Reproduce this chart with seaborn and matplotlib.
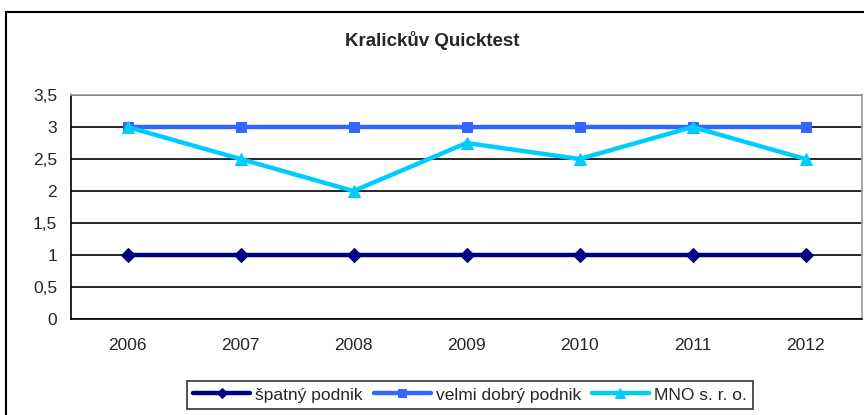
import pandas as pd
import numpy as np
import matplotlib.pyplot as plt
import seaborn as sns
from matplotlib.patches import Rectangle

# data
years = ["2006", "2007", "2008", "2009", "2010", "2011", "2012"]
spatny = [1, 1, 1, 1, 1, 1, 1]
velmi_dobry = [3, 3, 3, 3, 3, 3, 3]
mno = [3, 2.5, 2, 2.75, 2.5, 3, 2.5]

series = {
    "špatný podnik": (spatny, "#000080", "D", 7),
    "velmi dobrý podnik": (velmi_dobry, "#3366FF", "s", 7),
    "MNO s. r. o.": (mno, "#00CCFF", "^", 9),
}

sns.set_style("white")
plt.rcParams['font.family'] = ['Liberation Sans', 'DejaVu Sans']

fig = plt.figure(figsize=(8.64, 4.15), dpi=100)
ax = fig.add_axes([71/864, 1-319/415, (862-71)/864, (319-95)/415])

for name, (vals, col, mk, ms) in series.items():
    df = pd.DataFrame({"rok": years, "hodnota": vals})
    sns.lineplot(data=df, x="rok", y="hodnota", ax=ax, color=col, marker=mk,
                 markersize=ms, markeredgecolor=col, linewidth=3.2, label=name,
                 sort=False)

ax.set_xlim(-0.5, len(years) - 0.5)
ax.set_ylim(0, 3.5)
ax.set_yticks(np.arange(0, 3.51, 0.5))
ax.set_yticklabels([f"{v:g}".replace(".", ",") for v in np.arange(0, 3.51, 0.5)])
ax.yaxis.grid(True, color="black", linewidth=1.2)
ax.set_axisbelow(True)
ax.set_xlabel("")
ax.set_ylabel("")

ax.set_xticks(range(len(years)))
ax.set_xticklabels(years)
ax.set_xticks(np.arange(-0.5, len(years), 1), minor=True)
ax.tick_params(axis="x", which="major", length=0, pad=14, labelsize=12.5)
ax.tick_params(axis="x", which="minor", length=6, width=1.2, color="black", direction="out")
ax.tick_params(axis="y", length=6, width=1.2, color="black", direction="out", labelsize=12.5, pad=4)

for s in ["left", "bottom"]:
    ax.spines[s].set_color("black")
    ax.spines[s].set_linewidth(1.2)
for s in ["top", "right"]:
    ax.spines[s].set_color("#999999")
    ax.spines[s].set_linewidth(1.2)

fig.text(0.5, 1-40/415, "Kralickův Quicktest", ha="center", va="center",
         fontsize=13.5, fontweight="bold")

leg = ax.legend(loc="center", bbox_to_anchor=(470/864, 1-395/415),
                bbox_transform=fig.transFigure, ncol=3, frameon=True,
                fancybox=False, edgecolor="black", fontsize=12.5,
                handlelength=3.3, handletextpad=0.3, columnspacing=0.6,
                borderpad=0.35, markerscale=0.8)
leg.get_frame().set_linewidth(1.2)

fig.patches.append(Rectangle((6/864, -0.1), 2, 1 - 12/415 + 0.1,
                             transform=fig.transFigure, fill=False,
                             edgecolor="black", linewidth=1.5))

fig.savefig("out.png", dpi=100)
